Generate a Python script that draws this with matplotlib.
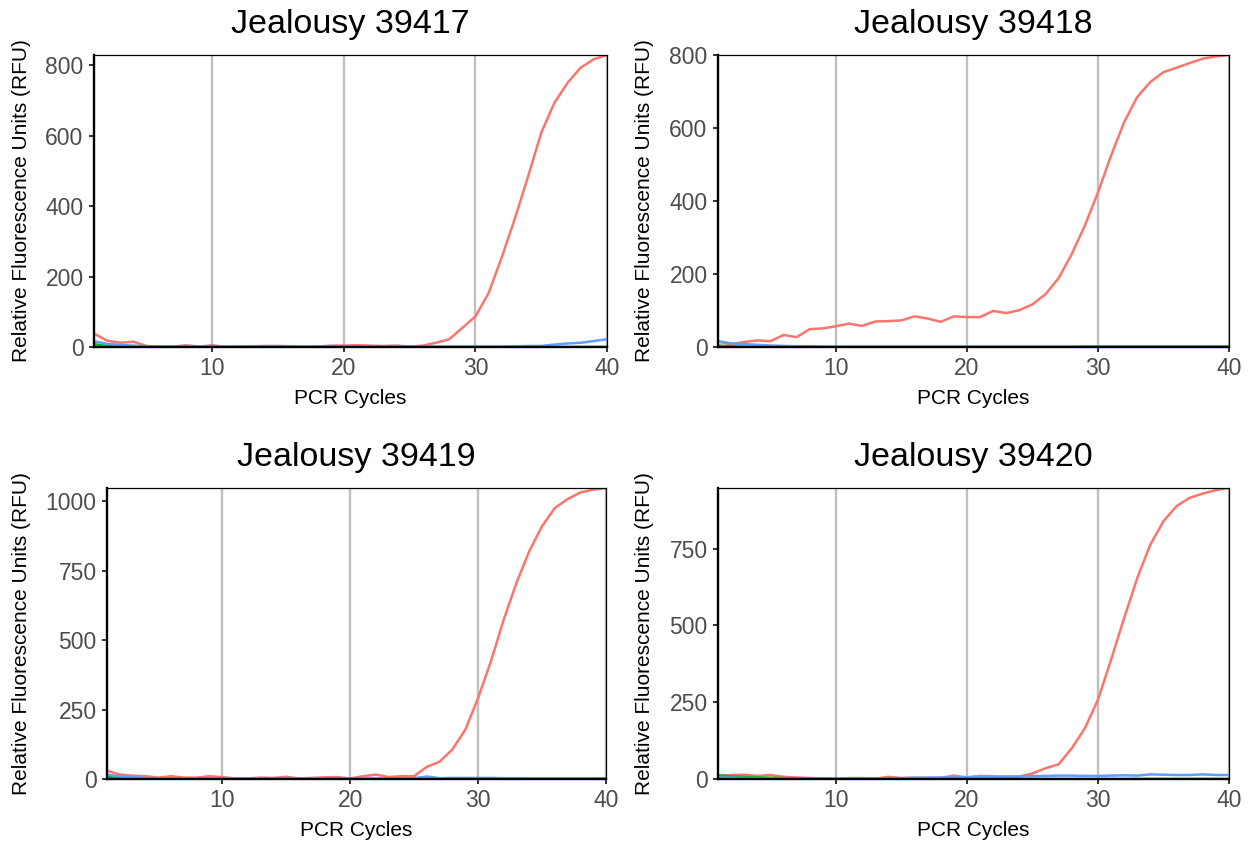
import matplotlib
matplotlib.use('Agg')
import matplotlib.pyplot as plt

plt.rcParams['font.family'] = ['Liberation Sans', 'DejaVu Sans']

cycles = list(range(1, 41))

# Jealousy 39417
red_39417 = [38, 18, 12, 15, 3, 1, 1, 5, 1, 5, 0, 1, 2, 3, 3, 2, 0, 1, 4, 4,
             5, 4, 3, 4, 1, 4, 12, 22, 54, 87, 153, 255, 365, 484, 608, 693, 750, 793, 817, 829]
green_39417 = [8, 3, 1, 0, 0, 0, 0, 0, 0, 0, 0, 0, 0, 0, 0, 0, 0, 0, 0, 0,
               0, 0, 0, 0, 0, 0, 0, 0, 0, 0, 0, 0, 0, 0, 0, 0, 0, 0, 0, 0]
blue_39417 = [16, 9, 6, 4, 2, 1, 1, 1, 1, 1, 1, 1, 1, 1, 1, 1, 1, 1, 1, 1,
              1, 1, 1, 1, 1, 1, 1, 1, 1, 1, 1, 1, 2, 3, 3, 7, 10, 12, 17, 22]

# Jealousy 39418
red_39418 = [15, 7, 14, 18, 16, 33, 27, 49, 51, 57, 64, 58, 70, 71, 73, 84, 78, 69, 84, 82,
             82, 99, 93, 101, 117, 145, 189, 255, 333, 424, 525, 617, 686, 727, 754, 766, 779, 791, 797, 801]
green_39418 = [4, 2, 1, 0, 0, 0, 0, 0, 0, 0, 0, 0, 0, 0, 0, 0, 0, 0, 0, 0,
               0, 0, 0, 0, 0, 0, 0, 0, 0, 0, 0, 0, 0, 0, 0, 0, 0, 0, 0, 0]
blue_39418 = [16, 10, 8, 6, 4, 3, 2, 2, 1, 1, 1, 1, 1, 1, 1, 1, 1, 1, 1, 1,
              1, 1, 1, 1, 1, 1, 1, 1, 2, 2, 2, 2, 2, 2, 2, 2, 2, 2, 2, 2]

# Jealousy 39419
red_39419 = [30, 16, 12, 10, 5, 10, 5, 5, 10, 7, 2, 2, 5, 4, 8, 2, 4, 6, 7, 2,
             10, 16, 7, 10, 10, 44, 62, 107, 177, 291, 423, 573, 706, 820, 910, 976, 1008, 1032, 1042, 1048]
green_39419 = [8, 3, 1, 0, 0, 0, 0, 0, 0, 0, 0, 0, 0, 0, 0, 0, 0, 0, 0, 0,
               0, 0, 0, 0, 0, 0, 0, 0, 0, 0, 0, 0, 0, 0, 0, 0, 0, 0, 0, 0]
blue_39419 = [16, 9, 6, 4, 3, 2, 2, 1, 1, 1, 1, 1, 1, 1, 1, 1, 1, 1, 1, 1,
              1, 1, 2, 2, 3, 9, 3, 4, 4, 4, 4, 3, 3, 2, 2, 2, 2, 2, 2, 3]

# Jealousy 39420
red_39420 = [11, 13, 14, 10, 13, 7, 5, 3, 2, 0, 3, 3, 1, 7, 3, 4, 4, 4, 11, 5,
             10, 9, 7, 8, 18, 35, 48, 100, 165, 258, 388, 524, 654, 763, 839, 888, 915, 929, 940, 947]
green_39420 = [12, 9, 7, 5, 4, 3, 2, 2, 1, 0, 0, 0, 0, 0, 0, 0, 0, 0, 0, 0,
               0, 0, 0, 0, 0, 0, 0, 0, 0, 0, 0, 0, 0, 0, 0, 0, 0, 0, 0, 0]
blue_39420 = [5, 4, 3, 2, 2, 1, 1, 1, 1, 1, 2, 2, 2, 3, 3, 4, 4, 5, 5, 6,
              7, 7, 8, 8, 9, 10, 11, 11, 10, 10, 11, 12, 11, 15, 14, 13, 13, 15, 13, 13]

panels = [
    ('Jealousy 39417', red_39417, green_39417, blue_39417, [0, 200, 400, 600, 800]),
    ('Jealousy 39418', red_39418, green_39418, blue_39418, [0, 200, 400, 600, 800]),
    ('Jealousy 39419', red_39419, green_39419, blue_39419, [0, 250, 500, 750, 1000]),
    ('Jealousy 39420', red_39420, green_39420, blue_39420, [0, 250, 500, 750]),
]

W, H = 1255, 848
# panel boxes in pixels: left, top, right, bottom
boxes = [(94, 55, 607, 347), (718, 55, 1229, 347), (107, 488, 606, 779), (718, 488, 1229, 779)]
ylab_x = [-0.123, -0.125, -0.152, -0.125]

fig = plt.figure(figsize=(W / 100, H / 100), dpi=100)
fig.patch.set_facecolor('white')

for i, (title, red, green, blue, yticks) in enumerate(panels):
    l, t, r, b = boxes[i]
    ax = fig.add_axes([l / W, 1 - b / H, (r - l) / W, (b - t) / H])
    ax.plot(cycles, red, color='#F8766D', lw=1.8, solid_joinstyle='round')
    ax.plot(cycles, green, color='#00BA38', lw=1.8, solid_joinstyle='round')
    ax.plot(cycles, blue, color='#619CFF', lw=1.8, solid_joinstyle='round')
    ax.set_xlim(1, 40)
    ax.set_ylim(0, max(max(red), max(green), max(blue)))
    ax.set_xticks([10, 20, 30, 40])
    ax.set_yticks(yticks)
    ax.grid(axis='x', color='#C0C0C0', lw=1.7)
    ax.set_axisbelow(True)
    for side in ['left', 'bottom']:
        ax.spines[side].set_linewidth(1.7)
    for side in ['top', 'right']:
        ax.spines[side].set_linewidth(0.9)
    ax.tick_params(axis='both', length=3.5, width=1.4, color='#333333',
                   labelcolor='#4D4D4D', labelsize=16.5, pad=4)
    ax.set_title(title, fontsize=24.5, pad=16, color='black')
    ax.set_xlabel('PCR Cycles', fontsize=15)
    ax.set_ylabel('Relative Fluorescence Units (RFU)', fontsize=15)
    ax.xaxis.set_label_coords(0.5, -0.145)
    ax.yaxis.set_label_coords(ylab_x[i], 0.5)

fig.savefig('out.png', dpi=100, facecolor='white')
plt.close(fig)
